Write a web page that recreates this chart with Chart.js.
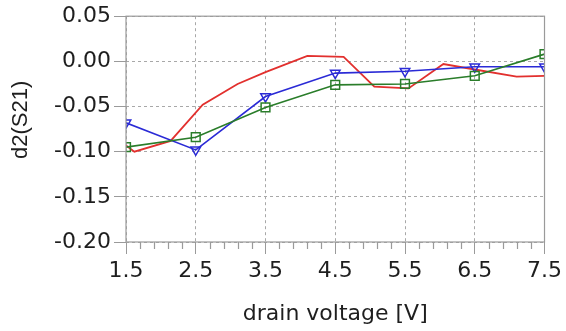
<!DOCTYPE html>
<html>
<head>
<meta charset="utf-8">
<script src="https://cdn.jsdelivr.net/npm/chart.js@4.4.1/dist/chart.umd.min.js"></script>
<style>
html,body{margin:0;padding:0;background:#fff;}
#wrap{width:566px;height:331px;}
</style>
</head>
<body>
<div id="wrap"><canvas id="c" width="566" height="331"></canvas></div>
<script>
// drain voltage sweep points
const vBias = [1.5, 2.5, 3.5, 4.5, 5.5, 6.5, 7.5];
const blueVals = [-0.068, -0.098, -0.039, -0.013, -0.011, -0.006, -0.006];
const greenVals = [-0.095, -0.084, -0.051, -0.026, -0.025, -0.016, 0.008];

// red trace (no markers, finer sweep)
const vRed = [1.5, 1.62, 2.14, 2.6, 3.1, 3.5, 4.1, 4.62, 5.06, 5.55, 6.05, 6.5, 7.1, 7.5];
const redVals = [-0.093, -0.100, -0.088, -0.048, -0.025, -0.012, 0.006, 0.005, -0.028, -0.030, -0.003, -0.009, -0.017, -0.016];

const yTicks = [-0.20, -0.15, -0.10, -0.05, 0.00, 0.05];
const xTicks = [1.5, 2.5, 3.5, 4.5, 5.5, 6.5, 7.5];

function pts(xs, ys){
  return xs.map((x,i)=>({x:x, y:ys[i]}));
}

const FONT = "'DejaVu Sans', sans-serif";
const GRID = "#a8a8a8";

// box round the plot + minor ticks on x
const frame = {
  id: "frame",
  afterDraw(chart){
    const c = chart.ctx, a = chart.chartArea, xs = chart.scales.x;
    c.save();
    c.strokeStyle = "#9a9a9a";
    c.lineWidth = 1.2;
    c.strokeRect(a.left, a.top, a.right - a.left, a.bottom - a.top);
    c.beginPath();
    for(let v = 1.5; v < 7.5; v += 0.2){
      const k = Math.round((v - 1.5) * 10) / 10;
      if(Math.abs(k - Math.round(k)) < 0.01) continue;
      const px = Math.round(xs.getPixelForValue(v)) + 0.5;
      c.moveTo(px, a.bottom);
      c.lineTo(px, a.bottom + 7);
    }
    c.stroke();
    c.restore();
  }
};

new Chart(document.getElementById("c"), {
  type: "line",
  data: {
    datasets: [
      {
        data: pts(vBias, greenVals),
        borderColor: "#2a7d2a",
        borderWidth: 1.6,
        pointStyle: "rect",
        pointRadius: 6.2,
        pointBorderWidth: 1.5,
        pointBorderColor: "#2a7d2a",
        pointBackgroundColor: "rgba(255,255,255,0)",
        tension: 0
      },
      {
        data: pts(vBias, blueVals),
        borderColor: "#2b2bd6",
        borderWidth: 1.6,
        pointStyle: "triangle",
        rotation: 180,
        pointRadius: 5.5,
        pointBorderWidth: 1.5,
        pointBorderColor: "#2b2bd6",
        pointBackgroundColor: "rgba(255,255,255,0)",
        tension: 0
      },
      {
        data: pts(vRed, redVals),
        borderColor: "#e2302e",
        borderWidth: 1.8,
        pointRadius: 0,
        tension: 0
      }
    ]
  },
  options: {
    responsive: false,
    animation: false,
    layout: {padding: {top: 16, right: 18, left: 0, bottom: 0}},
    plugins: {legend: {display: false}, tooltip: {enabled: false}},
    scales: {
      x: {
        type: "linear",
        min: 1.5,
        max: 7.5,
        afterBuildTicks(s){ s.ticks = xTicks.map(v=>({value:v})); },
        afterFit(s){ s.height = 89; },
        ticks: {
          color: "#1e1e1e",
          font: {family: FONT, size: 22},
          padding: 4,
          maxRotation: 0,
          callback: v => v.toFixed(1)
        },
        grid: {color: GRID, tickColor: "#9a9a9a", tickLength: 12, lineWidth: 1},
        border: {display: false, dash: [3, 3]},
        title: {
          display: true,
          text: "drain voltage [V]",
          color: "#1e1e1e",
          font: {family: FONT, size: 22},
          padding: {top: 0, bottom: 4}
        }
      },
      y: {
        min: -0.20,
        max: 0.05,
        afterBuildTicks(s){ s.ticks = yTicks.map(v=>({value:v})); },
        afterFit(s){ s.width = 126; },
        ticks: {
          color: "#1e1e1e",
          font: {family: FONT, size: 22},
          padding: 3,
          callback: v => v.toFixed(2)
        },
        grid: {color: GRID, tickColor: "#9a9a9a", tickLength: 12, lineWidth: 1},
        border: {display: false, dash: [3, 3]},
        title: {
          display: true,
          // leading spaces nudge the label a little above the plot centre
          text: "\u00a0\u00a0\u00a0d2(S21)",
          color: "#1e1e1e",
          font: {family: "'Liberation Sans', Arial, sans-serif", size: 22},
          padding: {top: 8, bottom: 0}
        }
      }
    }
  },
  plugins: [frame]
});
</script>
</body>
</html>
